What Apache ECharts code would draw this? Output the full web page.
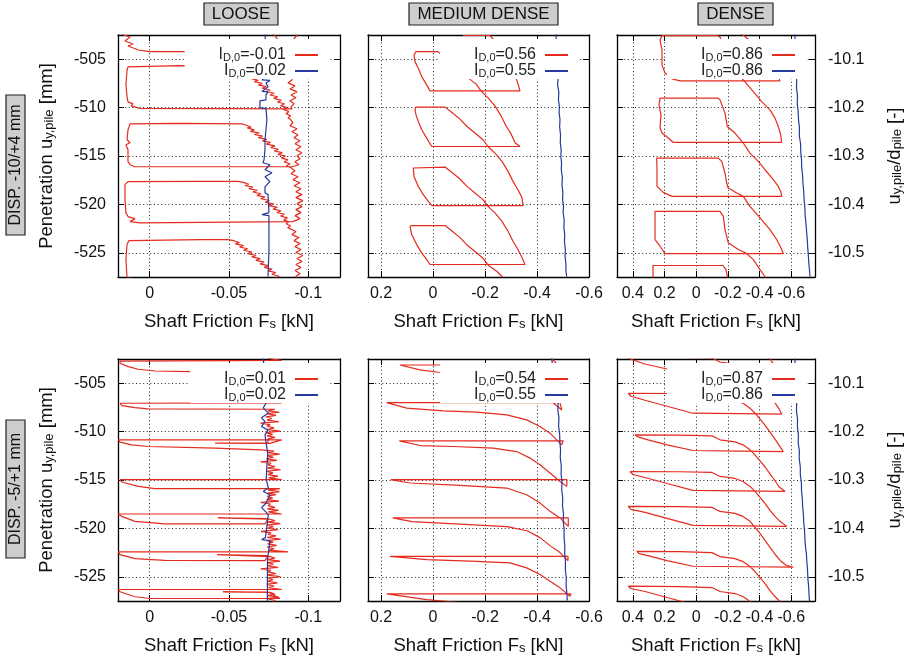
<!DOCTYPE html>
<html>
<head>
<meta charset="utf-8">
<script src="https://cdn.jsdelivr.net/npm/echarts@6/dist/echarts.min.js"></script>
<style>
html, body { margin: 0; padding: 0; background: #fff; }
#chart { width: 918px; height: 658px; }
</style>
</head>
<body>
<div id="chart"></div>
<script>
// ---- Tick values -------------------------------------------------------
const penetrationTicks = [-525, -520, -515, -510, -505];
const ratioTicks = [-10.5, -10.4, -10.3, -10.2, -10.1];
const frictionTicksLoose = [0, -0.05, -0.1];
const frictionTicksMedium = [0.2, 0, -0.2, -0.4, -0.6];
const frictionTicksDense = [0.4, 0.2, 0, -0.2, -0.4, -0.6];

const columnTitles = ['LOOSE', 'MEDIUM DENSE', 'DENSE'];
const rowTitles = ['DISP. -10/+4 mm', 'DISP. -5/+1 mm'];

// relative density I_D,0 of each test (red, blue)
const densityTop = [['-0.01', '0.02'], ['0.56', '0.55'], ['0.86', '0.86']];
const densityBottom = [['0.01', '0.02'], ['0.54', '0.55'], ['0.87', '0.86']];

// ---- Measured curves: [shaft friction F_s (kN), penetration u_y,pile (mm)] ----
// cyclic amplitude -10/+4 mm
const looseTop10Red = [
[-0.0922,-500.95],[-0.0910,-501.98],[-0.0929,-502.50],[-0.0903,-503.02],[-0.0922,-503.53],[-0.0897,-504.22],
[-0.0002,-504.22],[0.0074,-504.05],[0.0087,-503.94],[0.0137,-503.63],[0.0105,-503.43],[0.0156,-503.12],[0.0124,-502.71],[0.0181,-502.40],[0.0181,-500.95],[0.0175,-499.82],
[-0.0569,-499.82],[-0.0695,-500.95],[-0.0746,-501.78],[-0.0771,-502.29],[-0.0796,-502.71],[-0.0821,-503.32],[-0.0853,-504.56],[-0.0878,-506.11],
[-0.0897,-507.14],[-0.0872,-507.45],[-0.0916,-507.76],[-0.0884,-508.07],[-0.0929,-508.38],[-0.0891,-508.69],[-0.0922,-508.99],[-0.0884,-509.30],[-0.0910,-509.61],[-0.0891,-509.92],[-0.0897,-510.13],
[0.0061,-510.08],[0.0118,-509.82],[0.0105,-509.61],[0.0137,-509.41],[0.0143,-508.89],[0.0150,-507.65],[0.0143,-506.11],[0.0137,-505.80],
[-0.0191,-505.66],[-0.0544,-505.70],[-0.0601,-506.11],[-0.0632,-506.52],
[-0.0660,-506.90],[-0.0640,-507.00],[-0.0685,-507.18],[-0.0660,-507.32],[-0.0710,-507.50],[-0.0685,-507.66],[-0.0735,-507.84],[-0.0708,-508.00],[-0.0760,-508.18],[-0.0733,-508.34],[-0.0785,-508.52],[-0.0758,-508.70],[-0.0808,-508.88],[-0.0782,-509.05],[-0.0830,-509.24],[-0.0805,-509.42],[-0.0850,-509.60],[-0.0826,-509.80],[-0.0866,-510.00],[-0.0845,-510.20],[-0.0878,-510.42],[-0.0860,-510.62],[-0.0888,-510.85],[-0.0872,-511.05],[-0.0890,-511.26],
[-0.0903,-511.57],[-0.0884,-511.88],[-0.0929,-512.19],[-0.0897,-512.50],[-0.0935,-512.81],[-0.0910,-513.12],[-0.0948,-513.42],[-0.0916,-513.73],[-0.0954,-514.05],[-0.0922,-514.36],[-0.0960,-514.66],[-0.0929,-514.97],[-0.0948,-515.28],[-0.0916,-515.59],[-0.0941,-515.90],[-0.0897,-516.11],
[0.0093,-516.11],[0.0124,-515.90],[0.0137,-515.59],[0.0137,-514.36],[0.0150,-513.84],[0.0124,-513.63],[0.0143,-513.32],[0.0137,-512.29],[0.0124,-511.68],
[-0.0191,-511.62],[-0.0582,-511.68],[-0.0605,-511.80],[-0.0640,-512.00],[-0.0615,-512.10],[-0.0660,-512.30],[-0.0635,-512.45],[-0.0690,-512.62],[-0.0660,-512.78],[-0.0712,-512.95],[-0.0685,-513.10],[-0.0738,-513.28],[-0.0710,-513.45],[-0.0762,-513.60],[-0.0735,-513.78],[-0.0790,-513.95],[-0.0762,-514.12],[-0.0812,-514.30],[-0.0785,-514.48],[-0.0836,-514.65],[-0.0808,-514.84],[-0.0856,-515.02],[-0.0830,-515.20],[-0.0872,-515.40],[-0.0848,-515.60],[-0.0885,-515.80],[-0.0862,-516.00],[-0.0890,-516.21],
[-0.0916,-516.52],[-0.0891,-516.83],[-0.0935,-517.14],[-0.0903,-517.45],[-0.0948,-517.76],[-0.0910,-518.07],[-0.0954,-518.38],[-0.0922,-518.69],[-0.0960,-518.99],[-0.0922,-519.30],[-0.0966,-519.61],[-0.0929,-519.92],[-0.0960,-520.23],[-0.0922,-520.54],[-0.0954,-520.85],[-0.0916,-521.16],[-0.0948,-521.47],[-0.0903,-521.78],[-0.0891,-521.91],
[0.0061,-521.91],[0.0124,-521.78],[0.0093,-521.47],[0.0137,-521.26],[0.0150,-520.85],[0.0156,-519.51],[0.0156,-517.96],[0.0137,-517.65],
[-0.0317,-517.62],[-0.0557,-517.62],[-0.0590,-517.72],[-0.0625,-517.92],[-0.0600,-518.05],[-0.0650,-518.22],[-0.0625,-518.38],[-0.0678,-518.55],[-0.0650,-518.72],[-0.0702,-518.90],[-0.0676,-519.06],[-0.0728,-519.24],[-0.0700,-519.42],[-0.0755,-519.60],[-0.0728,-519.78],[-0.0780,-519.95],[-0.0752,-520.12],[-0.0805,-520.30],[-0.0778,-520.48],[-0.0828,-520.66],[-0.0802,-520.84],[-0.0850,-521.02],[-0.0825,-521.20],[-0.0868,-521.40],[-0.0845,-521.60],[-0.0880,-521.80],[-0.0860,-522.00],[-0.0888,-522.20],[-0.0870,-522.40],[-0.0890,-522.55],
[-0.0922,-522.81],[-0.0897,-523.12],[-0.0941,-523.43],[-0.0910,-523.74],[-0.0948,-524.05],[-0.0916,-524.36],[-0.0954,-524.66],[-0.0922,-524.97],[-0.0966,-525.28],[-0.0929,-525.59],[-0.0960,-525.90],[-0.0922,-526.21],[-0.0954,-526.52],[-0.0916,-526.83],[-0.0948,-527.14],[-0.0922,-527.45],[-0.0929,-527.76],
[0.0061,-527.76],[0.0143,-527.55],[0.0150,-525.70],[0.0143,-524.15],[0.0131,-523.74],
[-0.0317,-523.63],[-0.0494,-523.63],[-0.0530,-523.75],[-0.0565,-523.95],[-0.0540,-524.08],[-0.0592,-524.25],[-0.0566,-524.40],[-0.0618,-524.58],[-0.0592,-524.74],[-0.0645,-524.92],[-0.0618,-525.08],[-0.0670,-525.26],[-0.0644,-525.42],[-0.0696,-525.60],[-0.0670,-525.78],[-0.0722,-525.96],[-0.0696,-526.14],[-0.0748,-526.32],[-0.0722,-526.50],[-0.0772,-526.68],[-0.0748,-526.86],[-0.0795,-527.04],[-0.0770,-527.22],[-0.0815,-527.42],[-0.0795,-527.62],[-0.0825,-527.86]
];
const looseTop10Blue = [
[-0.0733,-501.50],[-0.0733,-501.98],[-0.0727,-503.02],[-0.0739,-504.05],[-0.0727,-505.08],[-0.0733,-506.11],[-0.0721,-506.93],[-0.0708,-507.14],[-0.0758,-507.19],[-0.0733,-507.45],[-0.0746,-507.86],[-0.0708,-508.33],[-0.0746,-508.38],[-0.0733,-508.69],[-0.0733,-509.20],[-0.0695,-509.30],[-0.0695,-510.03],[-0.0733,-510.08],[-0.0739,-511.26],[-0.0733,-512.29],[-0.0727,-513.32],[-0.0727,-514.36],[-0.0721,-515.39],[-0.0714,-515.70],[-0.0758,-515.90],[-0.0727,-516.42],[-0.0771,-516.73],[-0.0727,-517.14],[-0.0758,-517.65],[-0.0727,-518.17],[-0.0727,-518.79],[-0.0746,-518.99],[-0.0752,-520.85],[-0.0708,-521.06],[-0.0752,-521.16],[-0.0752,-524.66],[-0.0746,-527.45]
];
const mediumTop10Red = [
[-0.1154,-502.55],[-0.2192,-502.55],[-0.2346,-503.02],[-0.2692,-504.25],[-0.2962,-505.39],[-0.3154,-506.62],[-0.3269,-507.55],[-0.3346,-508.27],
[0.0115,-508.27],[0.0242,-507.65],[0.0435,-506.80],[0.0565,-505.93],[0.0692,-505.25],[0.0731,-504.56],[0.0654,-504.22],
[-0.0192,-504.22],[-0.0462,-504.77],[-0.0769,-505.49],[-0.1000,-506.21],[-0.1346,-506.93],[-0.1654,-507.55],[-0.1846,-508.27],[-0.2115,-508.99],[-0.2385,-509.82],[-0.2615,-510.85],[-0.2808,-511.88],[-0.3000,-512.71],[-0.3154,-513.63],[-0.3346,-514.02],
[0.0050,-514.02],[0.0242,-513.15],[0.0435,-512.29],[0.0565,-511.44],[0.0654,-510.75],[0.0692,-510.23],[0.0654,-509.95],
[-0.0462,-509.95],[-0.0731,-510.51],[-0.1038,-511.19],[-0.1308,-511.95],[-0.1615,-512.63],[-0.1923,-513.32],[-0.2115,-514.02],[-0.2385,-514.70],[-0.2654,-515.56],[-0.2885,-516.59],[-0.3077,-517.62],[-0.3269,-518.48],[-0.3423,-519.30],[-0.3462,-520.13],
[0.0038,-520.13],[0.0181,-519.69],[0.0373,-519.00],[0.0565,-518.14],[0.0731,-517.11],[0.0758,-516.24],[0.0692,-516.14],
[-0.0462,-516.14],[-0.0731,-516.70],[-0.1038,-517.38],[-0.1308,-518.14],[-0.1615,-518.82],[-0.1923,-519.51],[-0.2115,-520.20],[-0.2385,-520.88],[-0.2654,-521.75],[-0.2885,-522.78],[-0.3077,-523.81],[-0.3269,-524.66],[-0.3423,-525.49],[-0.3538,-526.21],
[0.0115,-526.21],[0.0242,-525.70],[0.0435,-525.01],[0.0627,-524.15],[0.0819,-523.12],[0.0885,-522.26],[0.0808,-522.19],
[-0.0462,-522.19],[-0.0731,-522.75],[-0.1038,-523.43],[-0.1308,-524.19],[-0.1615,-524.87],[-0.1923,-525.56],[-0.2115,-526.25],[-0.2462,-526.93],[-0.2692,-527.55]
];
const mediumTop10Blue = [
[-0.4731,-501.98],[-0.4740,-503.22],[-0.4775,-505.08],[-0.4815,-506.93],[-0.4790,-507.65],[-0.4840,-508.38],[-0.4825,-509.20],[-0.4862,-509.92],[-0.4850,-510.54],[-0.4885,-511.26],[-0.4870,-511.98],[-0.4905,-512.81],[-0.4895,-513.63],[-0.4930,-514.36],[-0.4915,-515.08],[-0.4945,-515.70],[-0.4935,-516.42],[-0.4975,-517.24],[-0.4960,-517.96],[-0.4995,-518.79],[-0.4985,-519.51],[-0.5020,-520.23],[-0.5005,-520.85],[-0.5045,-521.57],[-0.5035,-522.40],[-0.5065,-523.12],[-0.5055,-523.84],[-0.5090,-524.66],[-0.5080,-525.38],[-0.5115,-526.21],[-0.5110,-526.83],[-0.5142,-527.45]
];
const denseTop10Red = [
[-0.2449,-501.78],[-0.2955,-502.50],[-0.3586,-503.32],[-0.4343,-504.56],[-0.4912,-505.59],[-0.5164,-506.72],[-0.5290,-507.24],
[0.1023,-507.24],[0.1528,-507.03],[0.1970,-506.42],[0.2159,-505.59],[0.2159,-504.05],[0.2285,-503.02],[0.2159,-502.56],
[-0.1313,-502.56],[-0.1503,-502.71],[-0.1755,-504.05],[-0.1944,-505.39],[-0.2449,-506.11],[-0.2973,-507.14],[-0.3605,-508.35],[-0.4135,-509.38],[-0.4659,-510.23],[-0.4975,-511.09],[-0.5183,-511.95],[-0.5335,-512.81],[-0.5398,-513.60],
[0.1446,-513.60],[0.1780,-513.12],[0.2159,-512.63],[0.2285,-512.09],[0.2222,-510.75],[0.2348,-509.72],[0.2285,-509.03],
[-0.1376,-509.03],[-0.1503,-509.20],[-0.1818,-510.57],[-0.1963,-511.95],[-0.2449,-512.63],[-0.2973,-513.66],[-0.3396,-514.70],[-0.3920,-515.56],[-0.4343,-516.42],[-0.4867,-517.45],[-0.5183,-518.14],[-0.5335,-518.66],[-0.5398,-519.17],
[0.1528,-519.17],[0.1654,-519.07],[0.2077,-518.76],[0.2475,-518.14],[0.2475,-516.42],[0.2494,-515.21],
[-0.1376,-515.21],[-0.1610,-515.56],[-0.1818,-516.76],[-0.1925,-517.79],[-0.2008,-518.27],[-0.2557,-518.82],[-0.2973,-519.17],[-0.3396,-520.20],[-0.4028,-521.40],[-0.4659,-522.60],[-0.5082,-523.63],[-0.5398,-524.66],[-0.5499,-525.08],
[0.1970,-525.08],[0.2285,-524.32],[0.2601,-523.63],[0.2601,-522.09],[0.2601,-520.72],
[-0.1503,-520.72],[-0.1711,-521.23],[-0.1818,-522.60],[-0.2027,-523.97],[-0.2658,-524.66],[-0.3188,-525.08],[-0.3605,-525.70],[-0.4028,-526.73],[-0.4343,-527.45],[-0.4659,-528.27],[-0.4975,-529.82],[0.1970,-530.85],[0.2727,-528.79],[0.2727,-526.31],
[-0.1692,-526.31],[-0.1881,-526.73],[-0.2008,-527.76]
];
const denseTop10Blue = [
[-0.6230,-501.98],[-0.6245,-503.22],[-0.6290,-505.08],[-0.6345,-507.14],[-0.6330,-507.96],[-0.6395,-508.79],[-0.6380,-509.61],[-0.6440,-510.44],[-0.6460,-511.26],[-0.6520,-512.09],[-0.6510,-512.91],[-0.6590,-513.74],[-0.6600,-514.56],[-0.6650,-515.39],[-0.6660,-516.21],[-0.6720,-517.04],[-0.6740,-517.86],[-0.6790,-518.69],[-0.6810,-519.51],[-0.6860,-520.34],[-0.6880,-521.16],[-0.6930,-521.99],[-0.6970,-522.81],[-0.7010,-523.63],[-0.7040,-524.46],[-0.7080,-525.28],[-0.7110,-526.11],[-0.7160,-526.93],[-0.7184,-527.45]
];

// cyclic amplitude -5/+1 mm
const looseBot5Red = [
[-0.0758,-501.57],[-0.0733,-502.09],[-0.0780,-502.30],[-0.0745,-502.45],[-0.0832,-502.65],
[0.0187,-502.71],[0.0197,-502.81],[0.0187,-502.94],[0.0135,-503.29],[0.0072,-503.56],[-0.0033,-503.74],[-0.0254,-503.81],[-0.0727,-503.89],
[-0.0775,-504.05],[-0.0745,-504.20],[-0.0812,-504.30],[-0.0739,-504.45],[-0.0770,-504.62],[-0.0735,-504.80],[-0.0796,-504.95],[-0.0700,-505.10],[-0.0760,-505.25],[-0.0746,-505.45],[-0.0790,-505.60],[-0.0740,-505.75],[-0.0820,-505.90],[-0.0733,-506.05],[-0.0772,-506.22],[-0.0745,-506.40],[-0.0790,-506.55],[-0.0728,-506.70],[-0.0765,-506.88],[-0.0832,-507.04],
[0.0187,-507.07],[0.0176,-507.32],[0.0093,-507.52],[0.0009,-507.66],[-0.0790,-507.69],
[-0.0746,-507.85],[-0.0818,-508.00],[-0.0740,-508.15],[-0.0796,-508.32],[-0.0733,-508.48],[-0.0770,-508.65],[-0.0740,-508.82],[-0.0815,-508.98],[-0.0698,-509.12],[-0.0760,-509.28],[-0.0739,-509.45],[-0.0784,-509.62],[-0.0745,-509.80],[-0.0823,-509.95],[-0.0733,-510.10],[-0.0775,-510.28],[-0.0740,-510.45],[-0.0790,-510.60],[-0.0746,-510.75],
[-0.0746,-511.16],[-0.0412,-511.19],[-0.0758,-511.22],[-0.0832,-510.85],
[0.0198,-510.85],[0.0187,-511.09],[0.0114,-511.37],[0.0009,-511.54],[-0.0412,-511.71],[-0.0706,-511.88],
[-0.0784,-512.02],[-0.0745,-512.18],[-0.0820,-512.32],[-0.0739,-512.48],[-0.0780,-512.65],[-0.0735,-512.82],[-0.0803,-512.98],[-0.0700,-513.12],[-0.0765,-513.28],[-0.0746,-513.45],[-0.0790,-513.62],[-0.0742,-513.78],[-0.0826,-513.94],[-0.0733,-514.10],[-0.0778,-514.26],[-0.0745,-514.44],[-0.0809,-514.60],[-0.0750,-514.78],[-0.0832,-514.97],
[0.0187,-514.97],[0.0176,-515.21],[0.0072,-515.66],[-0.0033,-515.90],[-0.0821,-515.90],
[-0.0746,-516.05],[-0.0818,-516.20],[-0.0742,-516.36],[-0.0796,-516.52],[-0.0739,-516.68],[-0.0775,-516.85],[-0.0738,-517.02],[-0.0815,-517.18],[-0.0700,-517.32],[-0.0762,-517.48],[-0.0746,-517.65],[-0.0790,-517.82],[-0.0742,-517.98],[-0.0812,-518.14],[-0.0748,-518.30],[-0.0832,-518.51],
[0.0198,-518.51],[0.0176,-518.76],[0.0093,-519.27],[-0.0096,-519.54],[-0.0727,-519.54],[-0.0746,-518.99],[-0.0431,-518.92],[-0.0758,-519.05],
[-0.0790,-519.20],[-0.0745,-519.35],[-0.0824,-519.50],[-0.0739,-519.66],[-0.0780,-519.82],[-0.0742,-519.98],[-0.0809,-520.14],[-0.0702,-520.30],[-0.0765,-520.46],[-0.0746,-520.62],[-0.0796,-520.78],[-0.0740,-520.94],[-0.0826,-521.10],[-0.0739,-521.26],[-0.0778,-521.42],[-0.0744,-521.60],[-0.0800,-521.76],[-0.0740,-521.92],[-0.0785,-522.10],[-0.0750,-522.25],[-0.0872,-522.43],
[0.0198,-522.43],[0.0187,-522.71],[0.0093,-523.12],[-0.0096,-523.30],[-0.0727,-523.33],[-0.0746,-522.81],[-0.0424,-522.71],[-0.0758,-522.91],
[-0.0790,-523.06],[-0.0745,-523.22],[-0.0822,-523.38],[-0.0739,-523.54],[-0.0782,-523.70],[-0.0742,-523.86],[-0.0809,-524.02],[-0.0700,-524.18],[-0.0765,-524.34],[-0.0746,-524.50],[-0.0796,-524.66],[-0.0740,-524.82],[-0.0824,-524.98],[-0.0746,-525.14],[-0.0778,-525.30],[-0.0742,-525.46],[-0.0805,-525.62],[-0.0738,-525.78],[-0.0785,-525.95],[-0.0750,-526.12],[-0.0832,-526.31],
[0.0198,-526.31],[0.0187,-526.55],[0.0093,-527.06],[-0.0002,-527.24],[-0.0821,-527.24],[-0.0746,-526.57],[-0.0462,-526.55],[-0.0758,-526.61],
[-0.0790,-526.78],[-0.0744,-526.94],[-0.0815,-527.10],[-0.0740,-527.26],[-0.0790,-527.45],[-0.0746,-527.86]
];
const looseBot5Blue = [
[-0.0716,-502.09],[-0.0718,-502.81],[-0.0722,-503.63],[-0.0725,-505.18],[-0.0730,-506.73],[-0.0733,-507.07],[-0.0716,-507.55],[-0.0748,-508.07],[-0.0705,-508.58],[-0.0727,-508.96],[-0.0705,-509.48],[-0.0745,-509.82],[-0.0727,-510.34],[-0.0745,-512.40],[-0.0738,-513.74],[-0.0735,-514.97],[-0.0748,-515.80],[-0.0716,-516.18],[-0.0758,-516.52],[-0.0735,-517.35],[-0.0706,-517.86],[-0.0748,-518.58],[-0.0738,-519.92],[-0.0730,-520.95],[-0.0706,-521.16],[-0.0758,-521.26],[-0.0743,-523.22],[-0.0742,-525.28],[-0.0742,-527.86]
];
const mediumBot5Red = [
[-0.4565,-502.09],[-0.4577,-502.50],[-0.4731,-502.91],[-0.4769,-503.12],
[0.1269,-503.12],[0.1269,-503.22],[0.0500,-503.63],[-0.0204,-503.87],[-0.1681,-504.15],[-0.2835,-504.66],[-0.3615,-505.39],[-0.4115,-506.01],[-0.4500,-506.73],[-0.4769,-507.35],[-0.4950,-507.76],[-0.4885,-507.01],
[0.1781,-507.01],[0.1731,-507.14],[0.1012,-507.58],[-0.0396,-507.86],[-0.1681,-507.99],[-0.2835,-508.27],[-0.3604,-508.79],[-0.4115,-509.48],[-0.4500,-510.16],[-0.4758,-510.85],[-0.4950,-511.37],[-0.5012,-510.95],
[0.1296,-510.95],[0.1296,-511.09],[0.0500,-511.44],[-0.0781,-511.54],[-0.2319,-511.71],[-0.3219,-512.06],[-0.3731,-512.74],[-0.4115,-513.43],[-0.4500,-514.28],[-0.4885,-515.15],[-0.5142,-515.66],[-0.5154,-514.97],
[0.1627,-514.97],[0.1627,-515.08],[0.0885,-515.31],[-0.1038,-515.56],[-0.2835,-515.83],[-0.3604,-516.52],[-0.4115,-517.38],[-0.4500,-518.24],[-0.4885,-518.92],[-0.5204,-519.79],[-0.5204,-518.92],
[0.1550,-518.92],[0.1550,-519.05],[0.0808,-519.30],[-0.1038,-519.56],[-0.2846,-519.82],[-0.3615,-520.24],[-0.4115,-520.95],[-0.4500,-521.78],[-0.4885,-522.50],[-0.5192,-523.33],[-0.5192,-522.88],
[0.1654,-522.88],[0.1654,-522.98],[0.0242,-523.22],[-0.1681,-523.40],[-0.2962,-523.56],[-0.3604,-524.08],[-0.4115,-524.77],[-0.4500,-525.46],[-0.4885,-526.14],[-0.5269,-527.01],[-0.5308,-526.76],
[0.1781,-526.76],[0.1781,-526.90],[0.0242,-527.35],[-0.1038,-527.66]
];
const mediumBot5Blue = [
[-0.4560,-502.09],[-0.4590,-503.12],[-0.4640,-504.66],[-0.4700,-506.21],[-0.4815,-507.04],[-0.4800,-507.76],[-0.4845,-508.58],[-0.4830,-509.41],[-0.4870,-510.23],[-0.4880,-511.06],[-0.4905,-511.88],[-0.4895,-512.71],[-0.4935,-513.53],[-0.4925,-514.36],[-0.4960,-515.18],[-0.4950,-516.01],[-0.4990,-516.83],[-0.4980,-517.66],[-0.5020,-518.48],[-0.5010,-519.30],[-0.5045,-520.13],[-0.5040,-520.95],[-0.5070,-521.78],[-0.5065,-522.60],[-0.5095,-523.43],[-0.5090,-524.25],[-0.5125,-525.08],[-0.5120,-525.90],[-0.5150,-526.73],[-0.5165,-527.45]
];
const denseBot5Red = [
[-0.4533,-502.09],[-0.4785,-502.81],[-0.5101,-503.43],[-0.5290,-504.36],
[-0.2765,-504.30],[0.0202,-504.25],[0.1843,-503.53],[0.3232,-503.02],[0.3990,-502.60],[0.4432,-502.29],
[0.1023,-502.32],[-0.0997,-502.40],[-0.1250,-502.60],[-0.1503,-502.81],[-0.2449,-503.02],[-0.2955,-503.32],[-0.3396,-503.84],[-0.3712,-504.36],[-0.4028,-504.97],[-0.4343,-505.59],[-0.4659,-506.31],[-0.4975,-507.04],[-0.5227,-507.65],[-0.5398,-508.20],
[-0.2765,-508.15],[0.0202,-508.10],[0.1843,-507.38],[0.3232,-506.76],[0.4116,-506.35],[0.4287,-506.04],
[0.1023,-506.07],[-0.0997,-506.14],[-0.1250,-506.35],[-0.1503,-506.55],[-0.2449,-506.76],[-0.2955,-507.07],[-0.3396,-507.58],[-0.3712,-508.10],[-0.4028,-508.72],[-0.4343,-509.34],[-0.4659,-510.06],[-0.4975,-510.78],[-0.5227,-511.40],[-0.5499,-512.06],
[-0.2765,-512.01],[0.0202,-511.95],[0.1843,-511.37],[0.3043,-510.85],[0.3674,-510.54],[0.3864,-510.34],
[0.1023,-510.37],[-0.0997,-510.44],[-0.1250,-510.64],[-0.1503,-510.85],[-0.2449,-511.06],[-0.2955,-511.37],[-0.3396,-511.88],[-0.3712,-512.40],[-0.4028,-513.02],[-0.4343,-513.63],[-0.4659,-514.36],[-0.4975,-515.08],[-0.5227,-515.70],[-0.5606,-516.18],
[-0.2765,-516.13],[0.0202,-516.08],[0.1843,-515.36],[0.3232,-514.74],[0.3990,-514.43],[0.4179,-514.12],
[0.1023,-514.15],[-0.0997,-514.22],[-0.1250,-514.43],[-0.1503,-514.63],[-0.2449,-514.84],[-0.2955,-515.15],[-0.3396,-515.66],[-0.3712,-516.18],[-0.4028,-516.80],[-0.4343,-517.42],[-0.4659,-518.14],[-0.4975,-518.76],[-0.5290,-519.27],[-0.5713,-519.79],
[-0.2765,-519.74],[0.0202,-519.69],[0.1843,-518.96],[0.3232,-518.35],[0.4116,-518.04],[0.4287,-517.73],
[0.1023,-517.76],[-0.0997,-517.83],[-0.1250,-518.04],[-0.1503,-518.24],[-0.2449,-518.45],[-0.2955,-518.76],[-0.3396,-519.27],[-0.3712,-519.89],[-0.4028,-520.51],[-0.4343,-521.23],[-0.4659,-521.95],[-0.4975,-522.67],[-0.5354,-523.40],[-0.5669,-523.81],[-0.6130,-524.01],
[-0.3081,-523.96],[0.0202,-523.91],[0.1843,-523.33],[0.3043,-522.81],[0.3611,-522.60],[0.3756,-522.37],
[0.1023,-522.40],[-0.0997,-522.50],[-0.1250,-522.71],[-0.1503,-522.91],[-0.2449,-523.12],[-0.2955,-523.43],[-0.3396,-523.94],[-0.3712,-524.46],[-0.4028,-525.08],[-0.4343,-525.70],[-0.4659,-526.42],[-0.4975,-527.04],[-0.5354,-527.66],[-0.5922,-527.97],
[-0.3081,-527.91],[0.0202,-527.86],[0.1843,-527.14],[0.3232,-526.52],[0.4116,-526.21],[0.4287,-525.97],
[0.1023,-526.01],[-0.0997,-526.11],[-0.1250,-526.31],[-0.1503,-526.52],[-0.2449,-526.73],[-0.2955,-527.04],[-0.3396,-527.55],[-0.3712,-528.07]
];
const denseBot5Blue = [
[-0.6230,-502.09],[-0.6245,-503.12],[-0.6290,-504.66],[-0.6345,-507.04],[-0.6330,-507.86],[-0.6395,-508.69],[-0.6390,-509.51],[-0.6450,-510.34],[-0.6440,-511.16],[-0.6510,-511.98],[-0.6505,-512.81],[-0.6570,-513.63],[-0.6575,-514.46],[-0.6640,-515.28],[-0.6650,-516.11],[-0.6700,-516.93],[-0.6720,-517.76],[-0.6770,-518.58],[-0.6790,-519.41],[-0.6840,-520.23],[-0.6860,-521.06],[-0.6900,-521.88],[-0.6960,-522.71],[-0.6990,-523.53],[-0.7030,-524.36],[-0.7050,-525.18],[-0.7100,-526.01],[-0.7120,-526.84],[-0.7154,-527.52]
];

// ---- Layout & styling -----------------------------------------------------
const FONT = "'Liberation Sans', Arial, Helvetica, sans-serif";
const RED = '#e52b1e';
const BLUE = '#26399c';
const INK = '#111';

const cols = [
  { left: 118, width: 222, range: [-0.12, 0.02], ticks: frictionTicksLoose, legendRight: 588 },
  { left: 368, width: 221, range: [-0.6, 0.25], ticks: frictionTicksMedium, legendRight: 338 },
  { left: 617, width: 198, range: [-0.75, 0.5], ticks: frictionTicksDense, legendRight: 111 }
];
const rows = [{ top: 35, height: 242 }, { top: 359, height: 242 }];
const penRange = [-527.5, -502.5];
const ratioRange = [-10.55, -10.05];

const panels = [
  { row: 0, col: 0, red: looseTop10Red, blue: looseTop10Blue, dens: densityTop[0] },
  { row: 0, col: 1, red: mediumTop10Red, blue: mediumTop10Blue, dens: densityTop[1] },
  { row: 0, col: 2, red: denseTop10Red, blue: denseTop10Blue, dens: densityTop[2] },
  { row: 1, col: 0, red: looseBot5Red, blue: looseBot5Blue, dens: densityBottom[0] },
  { row: 1, col: 1, red: mediumBot5Red, blue: mediumBot5Blue, dens: densityBottom[1] },
  { row: 1, col: 2, red: denseBot5Red, blue: denseBot5Blue, dens: densityBottom[2] }
];

const fmt = v => String(parseFloat(Number(v).toFixed(3)));
const frame = { show: true, onZero: false, lineStyle: { color: '#000', width: 1.3 } };
const dots = { show: true, lineStyle: { color: '#222', width: 1, type: [1, 2.6] } };
const tick = vals => ({ show: true, inside: true, length: 6, customValues: vals, lineStyle: { color: '#000', width: 1 } });
const tickLabel = (vals, show, margin) => ({
  show: show, customValues: vals, formatter: fmt, fontSize: 16, color: INK,
  fontFamily: FONT, margin: margin, showMinLabel: true, showMaxLabel: true
});
const nameRich = {
  m: { fontSize: 18.5, fontFamily: FONT, color: INK, lineHeight: 19, verticalAlign: 'top' },
  s: { fontSize: 13, fontFamily: FONT, color: INK, lineHeight: 13, verticalAlign: 'bottom', padding: [10, 0, 0, 0] }
};
const legendRich = {
  m: { fontSize: 16, fontFamily: FONT, color: '#222', lineHeight: 16, verticalAlign: 'top' },
  s: { fontSize: 11, fontFamily: FONT, color: '#222', lineHeight: 11, verticalAlign: 'bottom', padding: [9, 0, 0, 0] },
  e: { fontSize: 16, fontFamily: FONT, color: '#222', lineHeight: 16, verticalAlign: 'top', padding: [0, 4, 0, 0] }
};

const option = {
  animation: false,
  backgroundColor: '#fff',
  grid: [], xAxis: [], yAxis: [], series: [], legend: [], graphic: []
};
const legendText = {};

panels.forEach((p, i) => {
  const c = cols[p.col], r = rows[p.row];
  option.grid.push({ left: c.left, top: r.top, width: c.width, height: r.height, containLabel: false });

  option.xAxis.push({
    gridIndex: i, type: 'value', position: 'bottom', inverse: true,
    min: c.range[0], max: c.range[1],
    axisLine: frame, axisTick: tick(c.ticks), axisLabel: tickLabel(c.ticks, true, 9),
    splitLine: dots,
    name: '{m|Shaft Friction F}{s|s}{m| [kN]}', nameLocation: 'middle', nameGap: 35,
    nameTextStyle: { rich: nameRich }
  });
  option.xAxis.push({
    gridIndex: i, type: 'value', position: 'top', inverse: true,
    min: c.range[0], max: c.range[1],
    axisLine: frame, axisTick: tick(c.ticks), axisLabel: { show: false }, splitLine: { show: false }
  });

  const leftY = {
    gridIndex: i, type: 'value', position: 'left', min: penRange[0], max: penRange[1],
    axisLine: frame, axisTick: tick(penetrationTicks),
    axisLabel: tickLabel(penetrationTicks, p.col === 0, 12), splitLine: dots
  };
  if (p.col === 0) {
    Object.assign(leftY, {
      name: '{m|Penetration u}{s|y,pile}{m| [mm]}', nameLocation: 'middle', nameRotate: 90, nameGap: 62,
      nameTextStyle: { rich: nameRich }
    });
  }
  option.yAxis.push(leftY);

  if (p.col === 2) {
    option.yAxis.push({
      gridIndex: i, type: 'value', position: 'right', min: ratioRange[0], max: ratioRange[1],
      axisLine: frame, axisTick: tick(ratioTicks), axisLabel: tickLabel(ratioTicks, true, 13),
      splitLine: { show: false },
      name: '{m|u}{s|y,pile}{m|/d}{s|pile}{m| [-]}', nameLocation: 'middle', nameRotate: 90, nameGap: 70,
      nameTextStyle: { rich: nameRich }
    });
  } else {
    option.yAxis.push({
      gridIndex: i, type: 'value', position: 'right', min: penRange[0], max: penRange[1],
      axisLine: frame, axisTick: tick(penetrationTicks), axisLabel: { show: false }, splitLine: { show: false }
    });
  }

  const redName = 'r' + i, blueName = 'b' + i;
  legendText[redName] = p.dens[0];
  legendText[blueName] = p.dens[1];

  option.series.push({
    name: redName, type: 'line', xAxisIndex: 2 * i, yAxisIndex: 2 * i, data: p.red,
    showSymbol: false, symbol: 'none', clip: true, z: 2,
    lineStyle: { color: RED, width: 1.2 }, itemStyle: { color: RED }
  });
  option.series.push({
    name: blueName, type: 'line', xAxisIndex: 2 * i, yAxisIndex: 2 * i, data: p.blue,
    showSymbol: false, symbol: 'none', clip: true, z: 3,
    lineStyle: { color: BLUE, width: 1.2 }, itemStyle: { color: BLUE }
  });

  option.legend.push({
    data: [redName, blueName], orient: 'vertical', align: 'right',
    right: c.legendRight, top: r.top + 4,
    icon: 'rect', itemWidth: 23, itemHeight: 2, itemGap: -4,
    padding: [4, 12, 0, 34], backgroundColor: '#fff',
    selectedMode: false, z: 10,
    formatter: name => '{m|I}{s|D,0}{e|=' + legendText[name] + '}',
    textStyle: { rich: legendRich }
  });
});

// column headers
const headerBoxes = [
  { x: 204, w: 74 }, { x: 409, w: 149 }, { x: 698, w: 75 }
];
columnTitles.forEach((t, k) => {
  const b = headerBoxes[k];
  option.graphic.push({
    type: 'group', children: [
      { type: 'rect', shape: { x: b.x, y: 3, width: b.w, height: 22 },
        style: { fill: '#cdcdcd', stroke: '#222', lineWidth: 1.2 } },
      { type: 'text', x: b.x + b.w / 2, y: 14.5,
        style: { text: t, fontSize: 17, fontFamily: FONT, fill: INK, align: 'center', verticalAlign: 'middle' } }
    ]
  });
});

// row headers (rotated)
const rowBoxes = [{ y: 95, h: 140 }, { y: 420, h: 138 }];
rowTitles.forEach((t, k) => {
  const b = rowBoxes[k];
  option.graphic.push({
    type: 'group', children: [
      { type: 'rect', shape: { x: 6, y: b.y, width: 19, height: b.h },
        style: { fill: '#cdcdcd', stroke: '#222', lineWidth: 1.2 } },
      { type: 'text', x: 16, y: b.y + b.h / 2, rotation: Math.PI / 2,
        style: { text: t, fontSize: 16, fontFamily: FONT, fill: INK, align: 'center', verticalAlign: 'middle' } }
    ]
  });
});

const chart = echarts.init(document.getElementById('chart'), null, { renderer: 'canvas' });
chart.setOption(option);
</script>
</body>
</html>
